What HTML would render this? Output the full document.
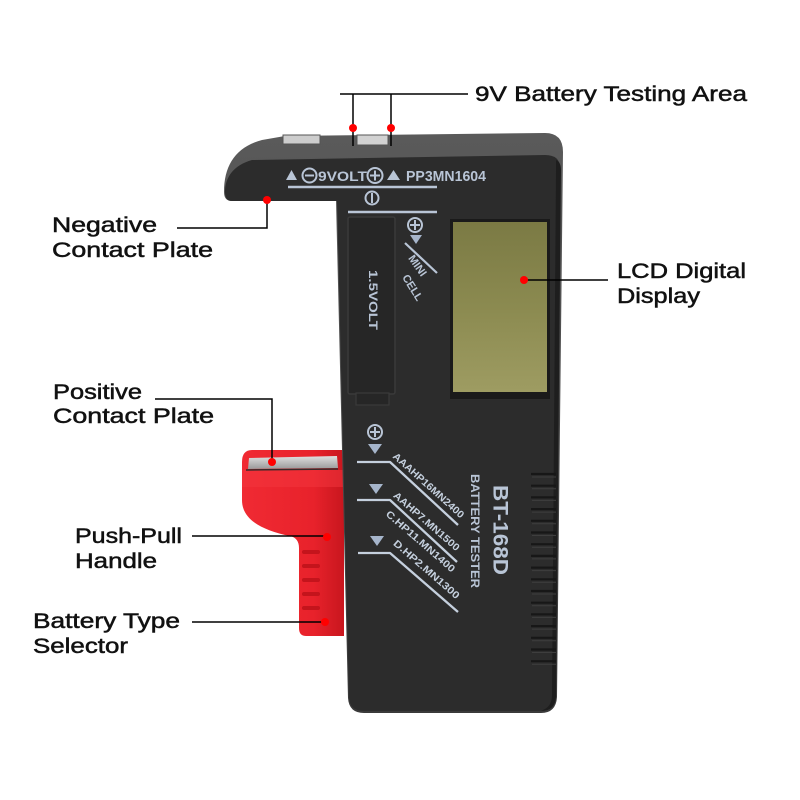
<!DOCTYPE html>
<html><head><meta charset="utf-8"><style>html,body{margin:0;padding:0;background:#fff}svg{display:block}</style></head>
<body>
<svg width="800" height="800" viewBox="0 0 800 800" xmlns="http://www.w3.org/2000/svg">
<defs>
<linearGradient id="red" x1="0" y1="0" x2="1" y2="0">
<stop offset="0" stop-color="#f02a33"/><stop offset="0.7" stop-color="#e8222b"/><stop offset="1" stop-color="#c8161e"/>
</linearGradient>
<linearGradient id="metal" x1="0" y1="0" x2="0" y2="1">
<stop offset="0" stop-color="#e0e0e0"/><stop offset="1" stop-color="#9a9a9a"/>
</linearGradient>
<linearGradient id="lcd" x1="0" y1="0" x2="0" y2="1">
<stop offset="0" stop-color="#7b7a44"/><stop offset="0.5" stop-color="#8b8a50"/><stop offset="1" stop-color="#9e9c62"/>
</linearGradient>
<linearGradient id="top" x1="0" y1="0" x2="0" y2="1">
<stop offset="0" stop-color="#5a5a5a"/><stop offset="1" stop-color="#3a3a3a"/>
</linearGradient>
</defs>
<rect width="800" height="800" fill="#fff"/>

<!-- red handle -->
<path d="M252,450 L344,450 L344,636 L306,636 Q299,636 299,628 L299,548 Q299,538 290,536 C262,530 242,520 242,500 L242,462 Q242,450 252,450 Z" fill="url(#red)"/>
<path d="M242,470 L344,470 L344,487 L242,487 Z" fill="#f3353d" opacity="0.5"/>
<g fill="#c4141c">
<rect x="302" y="550" width="18" height="4" rx="2"/>
<rect x="302" y="564" width="18" height="4" rx="2"/>
<rect x="302" y="578" width="18" height="4" rx="2"/>
<rect x="302" y="592" width="18" height="4" rx="2"/>
<rect x="302" y="606" width="18" height="4" rx="2"/>
</g>
<polygon points="248,469 249,458 337,456 338,468" fill="url(#metal)"/>
<line x1="246" y1="470" x2="338" y2="469" stroke="#3a2a2a" stroke-width="1.5"/>

<!-- device body -->
<path d="M232,201 Q224,201 224,192 C224,165 236,147 262,140 L285,136 L545,133 Q563,133 563,152 L557,697 Q556,713 541,713 L364,713 Q349,713 348,698 L336,201 Z" fill="url(#top)"/>
<path d="M232,201 Q225,201 225,192 C225,177 234,165 252,160 L545,155 Q560,155 560,168 L555,697 Q554,711 541,711 L364,711 Q350,711 349,698 L337,201 Z" fill="#2c2c2c"/>
<path d="M556,160 Q561,162 561,170 L556,697 Q555,711 541,711 L545,709 Q552,705 552,695 L556,170 Z" fill="#1e1e1e"/>

<!-- top contacts -->
<rect x="283" y="135" width="37" height="9" fill="#cdcdcd" stroke="#555" stroke-width="1"/>
<rect x="357" y="135" width="31" height="10" fill="#d2d2d2" stroke="#555" stroke-width="1"/>

<!-- top device text -->
<g fill="#b9c5d6" stroke="none">
<polygon points="286,180 291.5,170 297,180"/>
<polygon points="387,180 393.5,170 400,180"/>
</g>
<g fill="none" stroke="#b9c5d6" stroke-width="2">
<circle cx="309.5" cy="175.5" r="7"/>
<line x1="305" y1="175.5" x2="314" y2="175.5"/>
<circle cx="375" cy="175.5" r="7.5"/>
<line x1="370" y1="175.5" x2="380" y2="175.5"/>
<line x1="375" y1="170.5" x2="375" y2="180.5"/>
<line x1="288" y1="187" x2="437" y2="187" stroke-width="2.5"/>
<circle cx="372" cy="198" r="6.5"/>
<line x1="372" y1="193" x2="372" y2="203"/>
<line x1="348" y1="212" x2="437" y2="212" stroke-width="2.5"/>
</g>
<g font-family="Liberation Sans, sans-serif" font-weight="bold" fill="#b9c5d6">
<text x="318" y="181" font-size="14" textLength="49" lengthAdjust="spacingAndGlyphs">9VOLT</text>
<text x="406" y="181" font-size="15" textLength="80" lengthAdjust="spacingAndGlyphs">PP3MN1604</text>
</g>

<!-- slot -->
<rect x="348" y="217" width="47" height="177" fill="#262626" stroke="#3a3a3a" stroke-width="1.5" rx="2"/>
<rect x="356" y="393" width="33" height="12" fill="#262626" stroke="#3a3a3a" stroke-width="1.2"/>
<text transform="translate(373,300) rotate(90)" text-anchor="middle" dominant-baseline="central" font-family="Liberation Sans, sans-serif" font-weight="bold" font-size="12" fill="#b9c5d6" textLength="60" lengthAdjust="spacingAndGlyphs">1.5VOLT</text>

<!-- mini cell -->
<g fill="none" stroke="#b9c5d6" stroke-width="2">
<circle cx="415" cy="225" r="7"/>
<line x1="410" y1="225" x2="420" y2="225"/>
<line x1="415" y1="220" x2="415" y2="230"/>
<line x1="405" y1="243" x2="437" y2="273" stroke-width="2.2"/>
</g>
<polygon points="410,235 422,235 416,244" fill="#a6b5cb"/>
<g font-family="Liberation Sans, sans-serif" font-weight="bold" font-size="11" fill="#b9c5d6">
<text transform="translate(417,266) rotate(55)" text-anchor="middle" dominant-baseline="central">MINI</text>
<text transform="translate(412,288) rotate(58)" text-anchor="middle" dominant-baseline="central">CELL</text>
</g>

<!-- LCD -->
<rect x="450" y="219" width="100" height="180" fill="#1a1a1a"/>
<rect x="453" y="222" width="94" height="170" fill="url(#lcd)"/>

<!-- lower markings -->
<g fill="none" stroke="#b9c5d6" stroke-width="2">
<circle cx="375" cy="432" r="7"/>
<line x1="370" y1="432" x2="380" y2="432"/>
<line x1="375" y1="427" x2="375" y2="437"/>
</g>
<g fill="#a6b5cb">
<polygon points="368,444 382,444 375,454"/>
<polygon points="369,484 383,484 376,494"/>
<polygon points="370,536 384,536 377,546"/>
</g>
<g fill="none" stroke="#c5d0de" stroke-width="2.3" stroke-linejoin="round">
<polyline points="357,462 390,462 458,525"/>
<polyline points="357,500 390,500 457,562"/>
<polyline points="358,553 390,553 458,612"/>
</g>
<g font-family="Liberation Sans, sans-serif" font-weight="bold" font-size="10" fill="#c5d0de" text-anchor="middle" dominant-baseline="central">
<text transform="translate(428,486) rotate(42)" textLength="92" lengthAdjust="spacingAndGlyphs">AAAHP16MN2400</text>
<text transform="translate(426,522) rotate(41)" textLength="84" lengthAdjust="spacingAndGlyphs">AAHP7.MN1500</text>
<text transform="translate(420,542) rotate(41)" textLength="88" lengthAdjust="spacingAndGlyphs">C.HP11.MN1400</text>
<text transform="translate(426,570) rotate(41)" textLength="84" lengthAdjust="spacingAndGlyphs">D.HP2.MN1300</text>
</g>
<g font-family="Liberation Sans, sans-serif" font-weight="bold" fill="#b9c5d6" text-anchor="middle" dominant-baseline="central">
<text transform="translate(500,530) rotate(90)" font-size="21" textLength="90" lengthAdjust="spacingAndGlyphs">BT-168D</text>
<text transform="translate(475,531) rotate(90)" font-size="12" textLength="114" lengthAdjust="spacingAndGlyphs">BATTERY TESTER</text>
</g>

<!-- grip ridges -->
<g>
<g stroke="#171717" stroke-width="2.2">
<line x1="531" y1="474" x2="556" y2="474"/><line x1="531" y1="485.7" x2="556" y2="485.7"/>
<line x1="531" y1="497.4" x2="556" y2="497.4"/><line x1="531" y1="509.1" x2="556" y2="509.1"/>
<line x1="531" y1="520.8" x2="556" y2="520.8"/><line x1="531" y1="532.5" x2="556" y2="532.5"/>
<line x1="531" y1="544.2" x2="556" y2="544.2"/><line x1="531" y1="555.9" x2="556" y2="555.9"/>
<line x1="531" y1="567.6" x2="556" y2="567.6"/><line x1="531" y1="579.3" x2="556" y2="579.3"/>
<line x1="531" y1="591" x2="556" y2="591"/><line x1="531" y1="602.7" x2="556" y2="602.7"/>
<line x1="531" y1="614.4" x2="556" y2="614.4"/><line x1="531" y1="626.1" x2="556" y2="626.1"/>
<line x1="531" y1="637.8" x2="556" y2="637.8"/><line x1="531" y1="649.5" x2="556" y2="649.5"/>
<line x1="531" y1="661.2" x2="556" y2="661.2"/>
</g>
<g stroke="#3e3e3e" stroke-width="1">
<line x1="532" y1="477" x2="556" y2="477"/><line x1="532" y1="488.7" x2="556" y2="488.7"/>
<line x1="532" y1="500.4" x2="556" y2="500.4"/><line x1="532" y1="512.1" x2="556" y2="512.1"/>
<line x1="532" y1="523.8" x2="556" y2="523.8"/><line x1="532" y1="535.5" x2="556" y2="535.5"/>
<line x1="532" y1="547.2" x2="556" y2="547.2"/><line x1="532" y1="558.9" x2="556" y2="558.9"/>
<line x1="532" y1="570.6" x2="556" y2="570.6"/><line x1="532" y1="582.3" x2="556" y2="582.3"/>
<line x1="532" y1="594" x2="556" y2="594"/><line x1="532" y1="605.7" x2="556" y2="605.7"/>
<line x1="532" y1="617.4" x2="556" y2="617.4"/><line x1="532" y1="629.1" x2="556" y2="629.1"/>
<line x1="532" y1="640.8" x2="556" y2="640.8"/><line x1="532" y1="652.5" x2="556" y2="652.5"/>
<line x1="532" y1="664.2" x2="556" y2="664.2"/>
</g>
</g>

<!-- connectors -->
<g fill="none" stroke="#000" stroke-width="1.5">
<line x1="340" y1="94" x2="468" y2="94"/>
<line x1="353" y1="94" x2="353" y2="146"/>
<line x1="391" y1="94" x2="391" y2="146"/>
<polyline points="177,228 267,228 267,200"/>
<polyline points="155,399 272,399 272,462"/>
<line x1="192" y1="536" x2="327" y2="536"/>
<line x1="192" y1="622" x2="325" y2="622"/>
<line x1="524" y1="280" x2="608" y2="280"/>
</g>
<g fill="#ff0000">
<circle cx="353" cy="128" r="4"/>
<circle cx="391" cy="128" r="4"/>
<circle cx="267" cy="200" r="4"/>
<circle cx="272" cy="462" r="4"/>
<circle cx="327" cy="537" r="4"/>
<circle cx="325" cy="622" r="4"/>
<circle cx="524" cy="280" r="4"/>
</g>

<!-- labels -->
<g font-family="Liberation Sans, sans-serif" font-size="21" fill="#111" stroke="#111" stroke-width="0.5">
<text x="475" y="101" textLength="272" lengthAdjust="spacingAndGlyphs">9V Battery Testing Area</text>
<text x="617" y="278" textLength="129" lengthAdjust="spacingAndGlyphs">LCD Digital</text>
<text x="617" y="303" textLength="83" lengthAdjust="spacingAndGlyphs">Display</text>
<text x="52" y="232" textLength="105" lengthAdjust="spacingAndGlyphs">Negative</text>
<text x="52" y="257" textLength="161" lengthAdjust="spacingAndGlyphs">Contact Plate</text>
<text x="53" y="399" textLength="89" lengthAdjust="spacingAndGlyphs">Positive</text>
<text x="53" y="423" textLength="161" lengthAdjust="spacingAndGlyphs">Contact Plate</text>
<text x="75" y="543" textLength="107" lengthAdjust="spacingAndGlyphs">Push-Pull</text>
<text x="75" y="568" textLength="82" lengthAdjust="spacingAndGlyphs">Handle</text>
<text x="33" y="628" textLength="147" lengthAdjust="spacingAndGlyphs">Battery Type</text>
<text x="33" y="653" textLength="95" lengthAdjust="spacingAndGlyphs">Selector</text>
</g>
</svg>
</body></html>
